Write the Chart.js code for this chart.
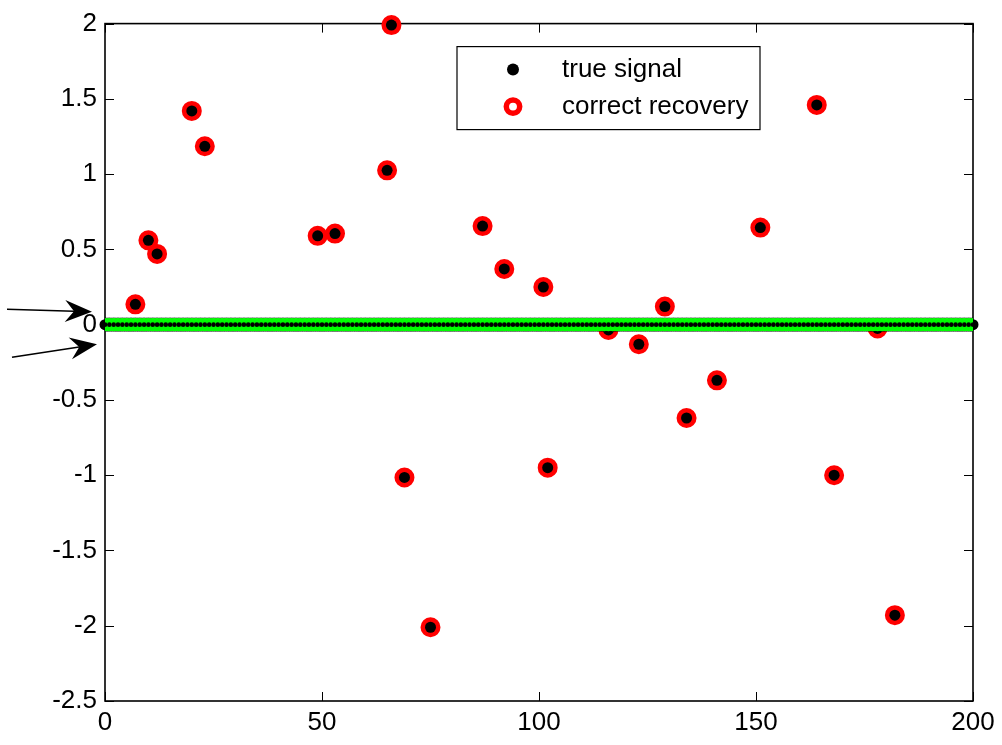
<!DOCTYPE html>
<html>
<head>
<meta charset="utf-8">
<script src="https://cdn.jsdelivr.net/npm/chart.js@4.4.1/dist/chart.umd.min.js"></script>
<style>
  html, body { margin: 0; padding: 0; background: #fff; }
  #wrap { width: 1002px; height: 745px; position: relative; }
</style>
</head>
<body>
<div id="wrap"><canvas id="recoveryChart"></canvas></div>
<script>
// indices of the nonzero entries and their values
const supportIdx = [7, 10, 12, 20, 23, 49, 53, 65, 66, 69, 75, 87, 92, 101, 102, 116, 123, 129, 134, 141, 151, 164, 168, 178, 182];
const trueVal = [0.135, 0.56, 0.47, 1.42, 1.185, 0.59, 0.605, 1.025, 1.99, -1.015, -2.01, 0.655, 0.37, 0.25, -0.95, -0.035, -0.13, 0.12, -0.62, -0.37, 0.645, 1.46, -1.0, -0.025, -1.93];
// recovered values (same as the true ones)
const recoveredVal = [0.135, 0.56, 0.47, 1.42, 1.185, 0.59, 0.605, 1.025, 1.99, -1.015, -2.01, 0.655, 0.37, 0.25, -0.95, -0.035, -0.13, 0.12, -0.62, -0.37, 0.645, 1.46, -1.0, -0.025, -1.93];
const lastIdx = 200;
const xTickValues = [0, 50, 100, 150, 200];
const yTickValues = [-2.5, -2, -1.5, -1, -0.5, 0, 0.5, 1, 1.5, 2];
const seriesLabels = ['true signal', 'correct recovery'];
// arrows at the left: value the tip points at
const arrowTips = [0.085, -0.13];

const FONT = 'Liberation Sans, Arial, Helvetica, sans-serif';
Chart.defaults.color = '#000';
Chart.defaults.font.family = FONT;
Chart.defaults.font.size = 26;

// full true signal: zeros everywhere except the support
const truePts = [];
const zeroPts = [];
for (let i = 0; i <= lastIdx; i++) {
  const k = supportIdx.indexOf(i);
  truePts.push({ x: i, y: k >= 0 ? trueVal[k] : 0 });
  zeroPts.push({ x: i, y: 0 });
}
const recPts = supportIdx.map((i, k) => ({ x: i, y: recoveredVal[k] }));

const GREEN = '#00ff00';
const RED = '#ff0000';

// box + inward ticks on all four sides
const frame = {
  id: 'frame',
  beforeDatasetsDraw(chart) {
    const { ctx, chartArea: a, scales: { x, y } } = chart;
    ctx.save();
    ctx.strokeStyle = '#000';
    ctx.lineWidth = 1;
    ctx.beginPath();
    x.ticks.forEach(t => {
      const px = Math.round(x.getPixelForValue(t.value)) + 0.5;
      ctx.moveTo(px, a.bottom); ctx.lineTo(px, a.bottom - 9);
      ctx.moveTo(px, a.top); ctx.lineTo(px, a.top + 9);
    });
    y.ticks.forEach(t => {
      const py = Math.round(y.getPixelForValue(t.value)) + 0.5;
      ctx.moveTo(a.left, py); ctx.lineTo(a.left + 9, py);
      ctx.moveTo(a.right, py); ctx.lineTo(a.right - 9, py);
    });
    ctx.stroke();
    ctx.lineWidth = 1.6;
    ctx.strokeRect(a.left, a.top, a.right - a.left, a.bottom - a.top);
    ctx.restore();
  }
};

function arrow(ctx, x0, y0, x1, y1) {
  const ang = Math.atan2(y1 - y0, x1 - x0);
  const L = 27, W = 11, notch = 18;
  const cos = Math.cos(ang), sin = Math.sin(ang);
  const bx = x1 - L * cos, by = y1 - L * sin;
  const nx = x1 - notch * cos, ny = y1 - notch * sin;
  ctx.beginPath();
  ctx.moveTo(x0, y0); ctx.lineTo(nx, ny);
  ctx.lineWidth = 1.5;
  ctx.stroke();
  ctx.beginPath();
  ctx.moveTo(x1, y1);
  ctx.lineTo(bx - W * sin, by + W * cos);
  ctx.lineTo(nx, ny);
  ctx.lineTo(bx + W * sin, by - W * cos);
  ctx.closePath();
  ctx.fill();
}

const overlay = {
  id: 'overlay',
  afterDraw(chart) {
    const { ctx, chartArea: a, scales: { y } } = chart;
    ctx.save();
    ctx.fillStyle = '#000';
    ctx.strokeStyle = '#000';
    // arrows
    const t1 = y.getPixelForValue(arrowTips[0]);
    arrow(ctx, a.left - 98, t1 - 2.5, a.left - 13, t1);
    const t2 = y.getPixelForValue(arrowTips[1]);
    arrow(ctx, a.left - 93, t2 + 13, a.left - 8, t2);

    // legend
    const lx = a.left + 352, ly = a.top + 23, lw = 303, lh = 83;
    ctx.fillStyle = '#fff';
    ctx.fillRect(lx, ly, lw, lh);
    ctx.lineWidth = 1.2;
    ctx.strokeRect(lx, ly, lw, lh);
    const mx = lx + 56, r1 = ly + 23, r2 = ly + 60;
    ctx.fillStyle = '#000';
    ctx.beginPath(); ctx.arc(mx, r1, 6, 0, Math.PI * 2); ctx.fill();
    ctx.strokeStyle = RED;
    ctx.lineWidth = 5.5;
    ctx.beginPath(); ctx.arc(mx, r2, 6.7, 0, Math.PI * 2); ctx.stroke();
    ctx.fillStyle = '#000';
    ctx.font = '26px ' + FONT;
    ctx.textBaseline = 'middle';
    ctx.fillText(seriesLabels[0], lx + 105, r1);
    ctx.fillText(seriesLabels[1], lx + 105, r2);
    ctx.restore();
  }
};

new Chart(document.getElementById('recoveryChart'), {
  type: 'scatter',
  data: {
    datasets: [
      {
        label: 'zero centre',
        data: zeroPts,
        pointRadius: 2.3,
        borderWidth: 0,
        backgroundColor: '#000',
        order: 0
      },
      {
        label: 'zero recovery',
        data: zeroPts,
        pointRadius: 6.6,
        borderWidth: 0,
        backgroundColor: GREEN,
        order: 1
      },
      {
        label: 'zero edge',
        data: zeroPts,
        pointRadius: 6.8,
        borderWidth: 1,
        borderColor: 'rgba(0,0,0,0.6)',
        backgroundColor: 'rgba(0,0,0,0)',
        order: 2
      },
      {
        label: seriesLabels[0],
        data: truePts,
        pointRadius: 5.5,
        borderWidth: 0,
        backgroundColor: '#000',
        clip: false,
        order: 3
      },
      {
        label: seriesLabels[1],
        data: recPts,
        pointRadius: 7,
        borderWidth: 6,
        borderColor: RED,
        backgroundColor: 'rgba(0,0,0,0)',
        clip: false,
        order: 4
      }
    ]
  },
  options: {
    responsive: true,
    maintainAspectRatio: false,
    animation: false,
    events: [],
    layout: { padding: { top: 17, right: 29, left: 0, bottom: 0 } },
    plugins: { legend: { display: false }, tooltip: { enabled: false } },
    scales: {
      x: {
        type: 'linear',
        min: 0,
        max: 200,
        grid: { display: false, drawTicks: false },
        border: { display: false },
        afterBuildTicks: s => { s.ticks = xTickValues.map(v => ({ value: v })); },
        afterFit: s => { s.height = 44; },
        ticks: { padding: 6, maxRotation: 0, color: '#000', callback: v => String(v) }
      },
      y: {
        type: 'linear',
        min: -2.5,
        max: 2,
        grid: { display: false, drawTicks: false },
        border: { display: false },
        afterBuildTicks: s => { s.ticks = yTickValues.map(v => ({ value: v })); },
        afterFit: s => { s.width = 105; },
        ticks: { padding: 8, color: '#000', callback: v => String(v) }
      }
    }
  },
  plugins: [frame, overlay]
});
</script>
</body>
</html>
